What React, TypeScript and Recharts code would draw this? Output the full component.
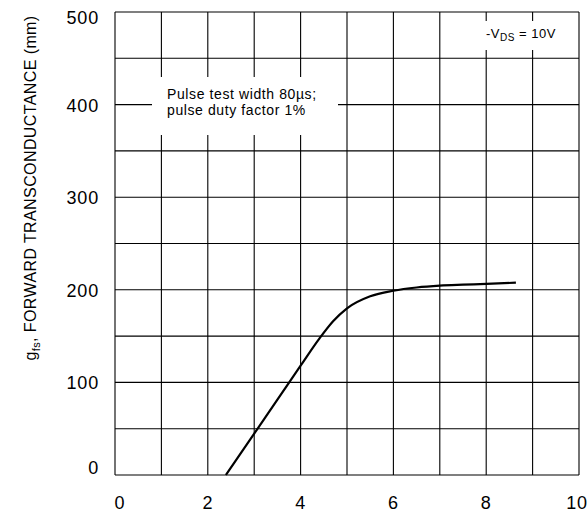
import { CartesianGrid, Line, LineChart, XAxis, YAxis } from 'recharts';

// V_GS (V) and g_fs readings along the curve
const vgsValues = [2.39, 3, 3.5, 4, 4.4, 4.7, 5, 5.5, 6, 6.5, 7, 7.5, 8, 8.64];
const gfsValues = [0, 44.7, 81.3, 118, 147, 166, 180, 193, 199, 202.5, 204.5, 205.5, 206.3, 207.7];

// grid lines on every tick, labels only on the major ones
const xTicks = [0, 1, 2, 3, 4, 5, 6, 7, 8, 9, 10];
const xLabelTicks = [0, 2, 4, 6, 8, 10];
const yTicks = [0, 50, 100, 150, 200, 250, 300, 350, 400, 450, 500];
const yLabelTicks = [0, 100, 200, 300, 400, 500];

const data = vgsValues.map((v, i) => ({ vgs: v, gfs: gfsValues[i] }));

const FONT = '"Liberation Sans", Arial, Helvetica, sans-serif';

const XTick = (props: any) => {
  const { x, payload } = props;
  if (!xLabelTicks.includes(payload.value)) return <g />;
  const shift = payload.value === 0 ? 5 : payload.value === 10 ? -2 : 0;
  return (
    <text
      x={x + shift}
      y={503}
      textAnchor="middle"
      dominantBaseline="central"
      fontSize={18}
      fontFamily={FONT}
      fill="#000"
      letterSpacing={0.8}
    >
      {payload.value}
    </text>
  );
};

const YTick = (props: any) => {
  const { y, payload } = props;
  if (!yLabelTicks.includes(payload.value)) return <g />;
  const shift = payload.value === 500 ? 6 : payload.value === 0 ? -7 : 1;
  return (
    <text
      x={99}
      y={y + shift}
      textAnchor="end"
      dominantBaseline="central"
      fontSize={18}
      fontFamily={FONT}
      fill="#000"
      letterSpacing={0.8}
    >
      {payload.value}
    </text>
  );
};

export default function App() {
  return (
    <div
      style={{
        position: 'absolute',
        left: 0,
        top: 0,
        width: 587,
        height: 514,
        background: '#fff',
        fontFamily: FONT,
      }}
    >
      <LineChart
        width={587}
        height={514}
        data={data}
        margin={{ top: 12, right: 8, bottom: 0, left: 0 }}
      >
        <CartesianGrid stroke="#000" strokeWidth={1.1} fill="none" />
        <XAxis
          type="number"
          dataKey="vgs"
          domain={[0, 10]}
          ticks={xTicks}
          interval={0}
          tickLine={false}
          axisLine={false}
          height={39}
          tick={<XTick />}
        />
        <YAxis
          type="number"
          domain={[0, 500]}
          ticks={yTicks}
          interval={0}
          tickLine={false}
          axisLine={false}
          width={115}
          tick={<YTick />}
        />
        <Line
          type="monotone"
          dataKey="gfs"
          stroke="#000"
          strokeWidth={2.2}
          dot={false}
          isAnimationActive={false}
        />
      </LineChart>

      {/* axis title */}
      <div
        style={{
          position: 'absolute',
          left: 32,
          top: 188,
          transform: 'translate(-50%, -50%) rotate(-90deg)',
          whiteSpace: 'nowrap',
          fontSize: 16,
          letterSpacing: 0.4,
          color: '#000',
        }}
      >
        g<sub style={{ fontSize: 11, verticalAlign: -4 }}>fs</sub>, FORWARD TRANSCONDUCTANCE (mm)
      </div>

      {/* test condition note */}
      <div
        style={{
          position: 'absolute',
          left: 152,
          top: 77,
          width: 186,
          height: 58,
          boxSizing: 'border-box',
          padding: '9px 0 0 15px',
          background: '#fff',
          fontSize: 14,
          lineHeight: '16px',
          letterSpacing: 0.6,
          color: '#000',
          whiteSpace: 'nowrap',
        }}
      >
        Pulse test width 80µs;
        <br />
        pulse duty factor 1%
      </div>

      {/* V_DS condition */}
      <div
        style={{
          position: 'absolute',
          left: 484,
          top: 21,
          height: 29,
          boxSizing: 'border-box',
          padding: '5px 4px 0 2px',
          background: '#fff',
          fontSize: 13,
          lineHeight: '15px',
          letterSpacing: 0.5,
          color: '#000',
          whiteSpace: 'nowrap',
        }}
      >
        -V<sub style={{ fontSize: 10, verticalAlign: -3 }}>DS</sub> = 10V
      </div>
    </div>
  );
}
